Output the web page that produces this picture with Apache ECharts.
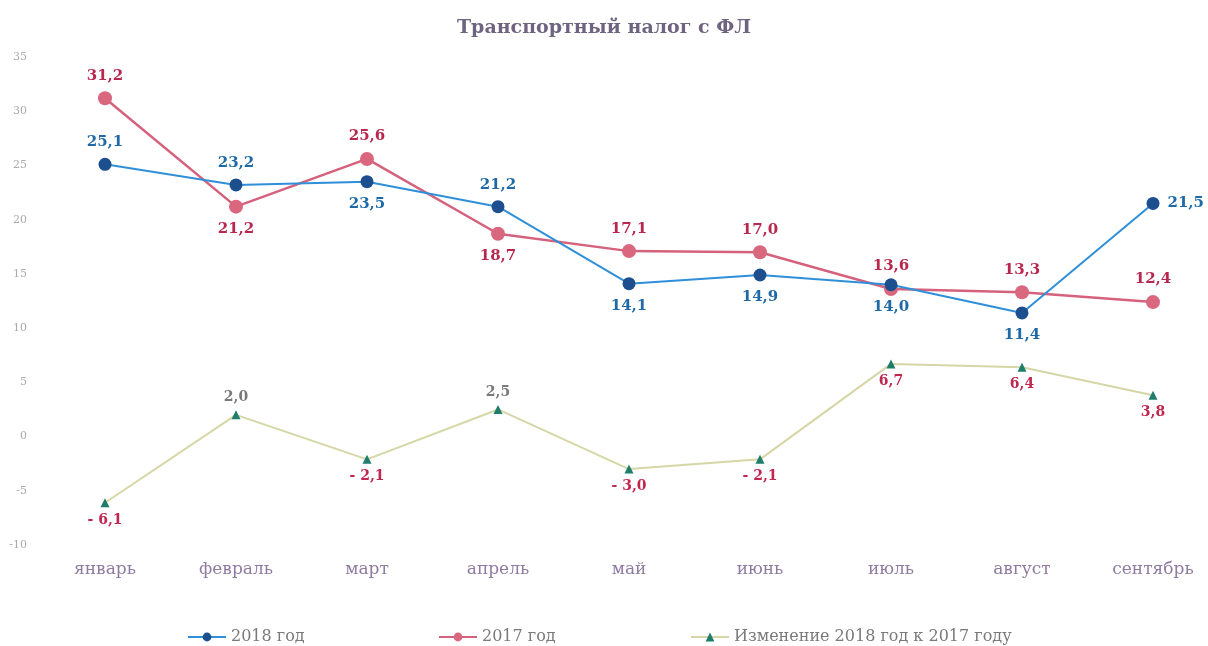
<!DOCTYPE html>
<html>
<head>
<meta charset="utf-8">
<script src="https://cdn.jsdelivr.net/npm/echarts@6/dist/echarts.min.js"></script>
<style>
  html, body { margin: 0; padding: 0; background: #fff; }
  #chart { width: 1208px; height: 646px; }
</style>
</head>
<body>
<div id="chart"></div>
<script>
  // данные
  let months = ['январь', 'февраль', 'март', 'апрель', 'май', 'июнь', 'июль', 'август', 'сентябрь'];
  let values2018 = [25.1, 23.2, 23.5, 21.2, 14.1, 14.9, 14.0, 11.4, 21.5];
  let values2017 = [31.2, 21.2, 25.6, 18.7, 17.1, 17.0, 13.6, 13.3, 12.4];
  let change = [-6.1, 2.0, -2.1, 2.5, -3.0, -2.1, 6.7, 6.4, 3.8];
  let yTicks = [-10, -5, 0, 5, 10, 15, 20, 25, 30, 35];
  let seriesNames = ['2018 год', '2017 год', 'Изменение 2018 год к 2017 году'];

  // где подпись у точки
  let pos2018 = ['top', 'top', 'bottom', 'top', 'bottom', 'bottom', 'bottom', 'bottom', 'right'];
  let pos2017 = ['top', 'bottom', 'top', 'bottom', 'top', 'top', 'top', 'top', 'top'];
  let posChange = ['bottom', 'top', 'bottom', 'top', 'bottom', 'bottom', 'bottom', 'bottom', 'bottom'];

  let serif = '"DejaVu Serif", "Liberation Serif", serif';

  function fmt(v) {
    let s = Math.abs(v).toFixed(1).replace('.', ',');
    return v < 0 ? '- ' + s : s;
  }

  function build(values, positions, colorFn) {
    return values.map(function (v, i) {
      return {
        value: v,
        label: {
          position: positions[i],
          color: colorFn ? colorFn(v) : undefined
        }
      };
    });
  }

  // три легенды, каждая на своём месте
  let legendLeft = [182, 433, 685];
  let legends = seriesNames.map(function (n, i) {
    return {
      top: 624,
      left: legendLeft[i],
      itemWidth: 38,
      itemHeight: 11,
      itemGap: 4,
      textStyle: { fontFamily: serif, fontSize: 16, color: '#7a7a7a' },
      data: [n]
    };
  });

  let chart = echarts.init(document.getElementById('chart'));
  let option = {
    backgroundColor: '#fff',
    title: {
      text: 'Транспортный налог с ФЛ',
      left: 'center',
      top: 14,
      textStyle: { fontFamily: serif, fontSize: 19, fontWeight: 'bold', color: '#6e6480' }
    },
    legend: legends,
    grid: { left: 105, right: 55, top: 57, bottom: 101 },
    xAxis: {
      type: 'category',
      data: months,
      boundaryGap: false,
      axisLine: { show: false },
      axisTick: { show: false },
      axisLabel: { margin: 16, fontFamily: serif, fontSize: 17, color: '#8f7aa0' }
    },
    yAxis: {
      type: 'value',
      min: yTicks[0],
      max: yTicks[yTicks.length - 1],
      interval: 5,
      splitLine: { show: false },
      axisLine: { show: false },
      axisTick: { show: false },
      axisLabel: { margin: 78, align: 'right', fontFamily: serif, fontSize: 11, color: '#aaa' }
    },
    series: [
      {
        name: seriesNames[0],
        type: 'line',
        data: build(values2018, pos2018),
        symbol: 'circle',
        symbolSize: 13,
        z: 3,
        lineStyle: { color: '#2f8fd8', width: 2 },
        itemStyle: { color: '#1d4f8f' },
        label: {
          show: true,
          distance: 8,
          formatter: function (p) { return fmt(p.value); },
          fontFamily: serif, fontSize: 15, fontWeight: 'bold', color: '#1f6aa6'
        }
      },
      {
        name: seriesNames[1],
        type: 'line',
        data: build(values2017, pos2017),
        symbol: 'circle',
        symbolSize: 14,
        z: 2,
        lineStyle: { color: '#d5617c', width: 2.5 },
        itemStyle: { color: '#d9687f' },
        label: {
          show: true,
          distance: 8,
          formatter: function (p) { return fmt(p.value); },
          fontFamily: serif, fontSize: 15, fontWeight: 'bold', color: '#b8284e'
        }
      },
      {
        name: seriesNames[2],
        type: 'line',
        data: build(change, posChange, function (v) {
          return (v > 0 && v < 3) ? '#7a7a7a' : '#c0264e';
        }),
        symbol: 'triangle',
        symbolSize: 9,
        z: 1,
        lineStyle: { color: '#d6d6a6', width: 2 },
        itemStyle: { color: '#1f7d6c' },
        label: {
          show: true,
          distance: 6,
          formatter: function (p) { return fmt(p.value); },
          fontFamily: serif, fontSize: 14, fontWeight: 'bold'
        }
      }
    ]
  };
  chart.setOption(option);
</script>
</body>
</html>
